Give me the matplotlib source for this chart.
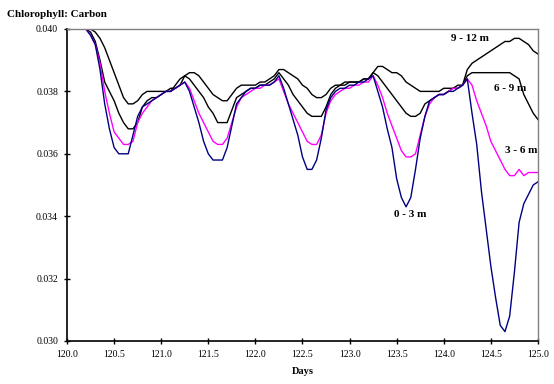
import numpy as np
import matplotlib
matplotlib.use('Agg')
import matplotlib.pyplot as plt

plt.rcParams['font.family'] = ['Liberation Serif', 'DejaVu Serif']

# Time axis (days), 0.05-day sampling
days = np.round(np.arange(120.0, 125.0001, 0.05), 2)

# Chlorophyll:Carbon ratio per depth layer
chl_0_3 = [
    0.0400, 0.0400, 0.0400, 0.0400, 0.0400, 0.0398, 0.0395, 0.0387, 0.0376, 0.0368,
    0.0362, 0.0360, 0.0360, 0.0360, 0.0366, 0.0372, 0.0375, 0.0376, 0.0377, 0.0378,
    0.0379, 0.0380, 0.0380, 0.0381, 0.0382, 0.0383, 0.0380, 0.0375, 0.0370, 0.0364,
    0.0360, 0.0358, 0.0358, 0.0358, 0.0362, 0.0369, 0.0376, 0.0378, 0.0380, 0.0381,
    0.0381, 0.0382, 0.0382, 0.0382, 0.0383, 0.0385, 0.0381, 0.0376, 0.0371, 0.0366,
    0.0359, 0.0355, 0.0355, 0.0358, 0.0365, 0.0374, 0.0378, 0.0380, 0.0381, 0.0381,
    0.0382, 0.0382, 0.0383, 0.0383, 0.0384, 0.0385, 0.0380, 0.0375, 0.0368, 0.0362,
    0.0352, 0.0346, 0.0343, 0.0346, 0.0355, 0.0365, 0.0372, 0.0377, 0.0378, 0.0379,
    0.0379, 0.0380, 0.0380, 0.0381, 0.0382, 0.0384, 0.0373, 0.0363, 0.0348, 0.0336,
    0.0324, 0.0314, 0.0305, 0.0303, 0.0308, 0.0322, 0.0338, 0.0344, 0.0347, 0.0350,
    0.0351,
]
chl_3_6 = [
    0.0400, 0.0400, 0.0400, 0.0400, 0.0400, 0.0398, 0.0395, 0.0389, 0.0380, 0.0373,
    0.0367, 0.0365, 0.0363, 0.0363, 0.0364, 0.0370, 0.0373, 0.0375, 0.0377, 0.0378,
    0.0379, 0.0380, 0.0380, 0.0381, 0.0382, 0.0383, 0.0381, 0.0377, 0.0373, 0.0370,
    0.0367, 0.0364, 0.0363, 0.0363, 0.0365, 0.0370, 0.0375, 0.0378, 0.0379, 0.0380,
    0.0381, 0.0381, 0.0382, 0.0382, 0.0383, 0.0384, 0.0380, 0.0376, 0.0373, 0.0370,
    0.0367, 0.0364, 0.0363, 0.0363, 0.0366, 0.0373, 0.0377, 0.0379, 0.0380, 0.0381,
    0.0381, 0.0382, 0.0382, 0.0383, 0.0383, 0.0385, 0.0382, 0.0378, 0.0373, 0.0369,
    0.0365, 0.0361, 0.0359, 0.0359, 0.0360, 0.0366, 0.0372, 0.0376, 0.0378, 0.0379,
    0.0379, 0.0380, 0.0381, 0.0381, 0.0382, 0.0384, 0.0382, 0.0377, 0.0373, 0.0369,
    0.0364, 0.0361, 0.0358, 0.0355, 0.0353, 0.0353, 0.0355, 0.0353, 0.0354, 0.0354,
    0.0354,
]
chl_6_9 = [
    0.0400, 0.0400, 0.0400, 0.0400, 0.0400, 0.0399, 0.0396, 0.0390, 0.0383, 0.0380,
    0.0377, 0.0373, 0.0370, 0.0368, 0.0368, 0.0370, 0.0375, 0.0377, 0.0378, 0.0378,
    0.0379, 0.0380, 0.0380, 0.0382, 0.0384, 0.0385, 0.0384, 0.0382, 0.0380, 0.0378,
    0.0375, 0.0373, 0.0370, 0.0370, 0.0370, 0.0374, 0.0378, 0.0379, 0.0380, 0.0381,
    0.0381, 0.0382, 0.0382, 0.0383, 0.0384, 0.0386, 0.0384, 0.0382, 0.0379, 0.0377,
    0.0375, 0.0373, 0.0372, 0.0372, 0.0372, 0.0375, 0.0379, 0.0381, 0.0382, 0.0382,
    0.0383, 0.0383, 0.0383, 0.0384, 0.0384, 0.0386, 0.0385, 0.0383, 0.0381, 0.0379,
    0.0377, 0.0375, 0.0373, 0.0372, 0.0372, 0.0373, 0.0376, 0.0377, 0.0378, 0.0379,
    0.0379, 0.0380, 0.0381, 0.0381, 0.0382, 0.0385, 0.0386, 0.0386, 0.0386, 0.0386,
    0.0386, 0.0386, 0.0386, 0.0386, 0.0386, 0.0385, 0.0384, 0.0379, 0.0376, 0.0373,
    0.0371,
]
chl_9_12 = [
    0.0400, 0.0400, 0.0400, 0.0400, 0.0400, 0.0400, 0.0399, 0.0397, 0.0394, 0.0390,
    0.0386, 0.0382, 0.0378, 0.0376, 0.0376, 0.0377, 0.0379, 0.0380, 0.0380, 0.0380,
    0.0380, 0.0380, 0.0381, 0.0381, 0.0382, 0.0385, 0.0386, 0.0386, 0.0385, 0.0383,
    0.0381, 0.0379, 0.0378, 0.0377, 0.0377, 0.0379, 0.0381, 0.0382, 0.0382, 0.0382,
    0.0382, 0.0383, 0.0383, 0.0384, 0.0385, 0.0387, 0.0387, 0.0386, 0.0385, 0.0384,
    0.0382, 0.0381, 0.0379, 0.0378, 0.0378, 0.0379, 0.0381, 0.0382, 0.0382, 0.0383,
    0.0383, 0.0383, 0.0383, 0.0384, 0.0384, 0.0386, 0.0388, 0.0388, 0.0387, 0.0386,
    0.0386, 0.0385, 0.0383, 0.0382, 0.0381, 0.0380, 0.0380, 0.0380, 0.0380, 0.0380,
    0.0381, 0.0381, 0.0381, 0.0382, 0.0382, 0.0387, 0.0389, 0.0390, 0.0391, 0.0392,
    0.0393, 0.0394, 0.0395, 0.0396, 0.0396, 0.0397, 0.0397, 0.0396, 0.0395, 0.0393,
    0.0392,
]

labels = ['0 - 3 m', '3 - 6 m', '6 - 9 m', '9 - 12 m']
colors = ['#000080', '#FF00FF', 'black', 'black']
series = [chl_0_3, chl_3_6, chl_6_9, chl_9_12]
# where each depth label sits (data coords)
label_pos = [(123.64, 0.0342), (124.82, 0.03625), (124.71, 0.03825), (124.28, 0.03985)]

fig = plt.figure(figsize=(5.54, 3.84), dpi=100)
ax = fig.add_axes([0.121, 0.112, 0.850, 0.8125])

for vals, c in zip(series[::-1], colors[::-1]):
    ax.plot(days, vals, color=c, lw=1.0)

for lab, (lx, ly) in zip(labels, label_pos):
    ax.text(lx, ly, lab, fontsize=8, fontweight='bold', ha='center', va='top')

ax.set_xlim(120.0, 125.0)
ax.set_ylim(0.030, 0.040)
ax.set_xticks(np.arange(120.0, 125.01, 0.5))
ax.set_yticks(np.arange(0.030, 0.0401, 0.002))
ax.xaxis.set_major_formatter(matplotlib.ticker.FormatStrFormatter('%.1f'))
ax.yaxis.set_major_formatter(matplotlib.ticker.FormatStrFormatter('%.3f'))
ax.tick_params(direction='inout', length=5, width=1, labelsize=7, pad=4)

for s in ['left', 'bottom']:
    ax.spines[s].set_linewidth(1.2)
for s in ['top', 'right']:
    ax.spines[s].set_color('#808080')
    ax.spines[s].set_linewidth(1.0)

ax.set_xlabel('Days', fontsize=7.5, fontweight='bold', labelpad=6)
fig.text(0.012, 0.975, 'Chlorophyll: Carbon', fontsize=8, fontweight='bold', va='top')

plt.savefig('out.png', dpi=100)
